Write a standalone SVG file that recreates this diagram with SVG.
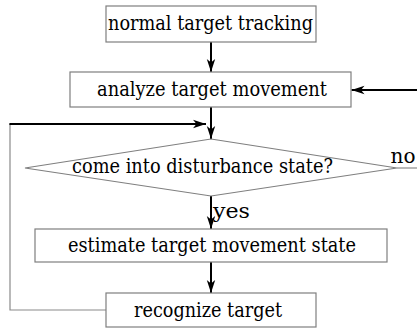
<svg xmlns="http://www.w3.org/2000/svg" width="417" height="330" viewBox="0 0 417 330">
  <defs>
    <marker id="arrow" markerUnits="userSpaceOnUse" markerWidth="14" markerHeight="10" refX="13" refY="5" orient="auto">
      <path d="M0,0.8 L13,5 L0,9.2 L3.5,5 Z" fill="#000"/>
    </marker>
    <style>
      .box { fill: #fff; stroke: #7f7f7f; stroke-width: 1.2; }
      .lbl { font-family: "DejaVu Serif", serif; font-size: 20px; fill: #000; text-anchor: middle; }
      .flow { fill: none; stroke: #000; stroke-width: 2; marker-end: url(#arrow); }
      .thin { fill: none; stroke: #8a8a8a; stroke-width: 1.2; }
    </style>
  </defs>
  <rect width="417" height="330" fill="#fff"/>

  <g id="connectors">
    <line class="flow" x1="211" y1="42" x2="211" y2="72"/>
    <line class="flow" x1="211" y1="107" x2="211" y2="139"/>
    <line class="flow" x1="211" y1="196" x2="211" y2="229"/>
    <line class="flow" x1="211" y1="262" x2="211" y2="293"/>
    <line class="flow" x1="417" y1="90" x2="351.5" y2="90"/>
    <polyline class="thin" points="106,310 10,310 10,124"/>
    <line class="flow" x1="9.4" y1="124" x2="206" y2="124"/>
    <line class="thin" x1="397" y1="168" x2="417" y2="168"/>
    <text class="lbl" x="403" y="163" font-size="19">no</text>
    <text class="lbl" x="231.5" y="218" textLength="37" lengthAdjust="spacingAndGlyphs">yes</text>
  </g>

  <g id="node-tracking">
    <rect class="box" x="106" y="6" width="210" height="36"/>
    <text class="lbl" x="210.5" y="30" textLength="205" lengthAdjust="spacingAndGlyphs">normal target tracking</text>
  </g>

  <g id="node-analyze">
    <rect class="box" x="70" y="72" width="281" height="35"/>
    <text class="lbl" x="212" y="96" textLength="230" lengthAdjust="spacingAndGlyphs">analyze target movement</text>
  </g>

  <g id="node-disturbance">
    <polygon class="box" points="211,139 397,168 211,196 25,168"/>
    <text class="lbl" x="202.5" y="173" textLength="261" lengthAdjust="spacingAndGlyphs">come into disturbance state?</text>
  </g>

  <g id="node-estimate">
    <rect class="box" x="35" y="229" width="352" height="33"/>
    <text class="lbl" x="212" y="252" textLength="288" lengthAdjust="spacingAndGlyphs">estimate target movement state</text>
  </g>

  <g id="node-recognize">
    <rect class="box" x="106" y="293" width="210" height="34"/>
    <text class="lbl" x="208" y="317" textLength="148" lengthAdjust="spacingAndGlyphs">recognize target</text>
  </g>
</svg>
